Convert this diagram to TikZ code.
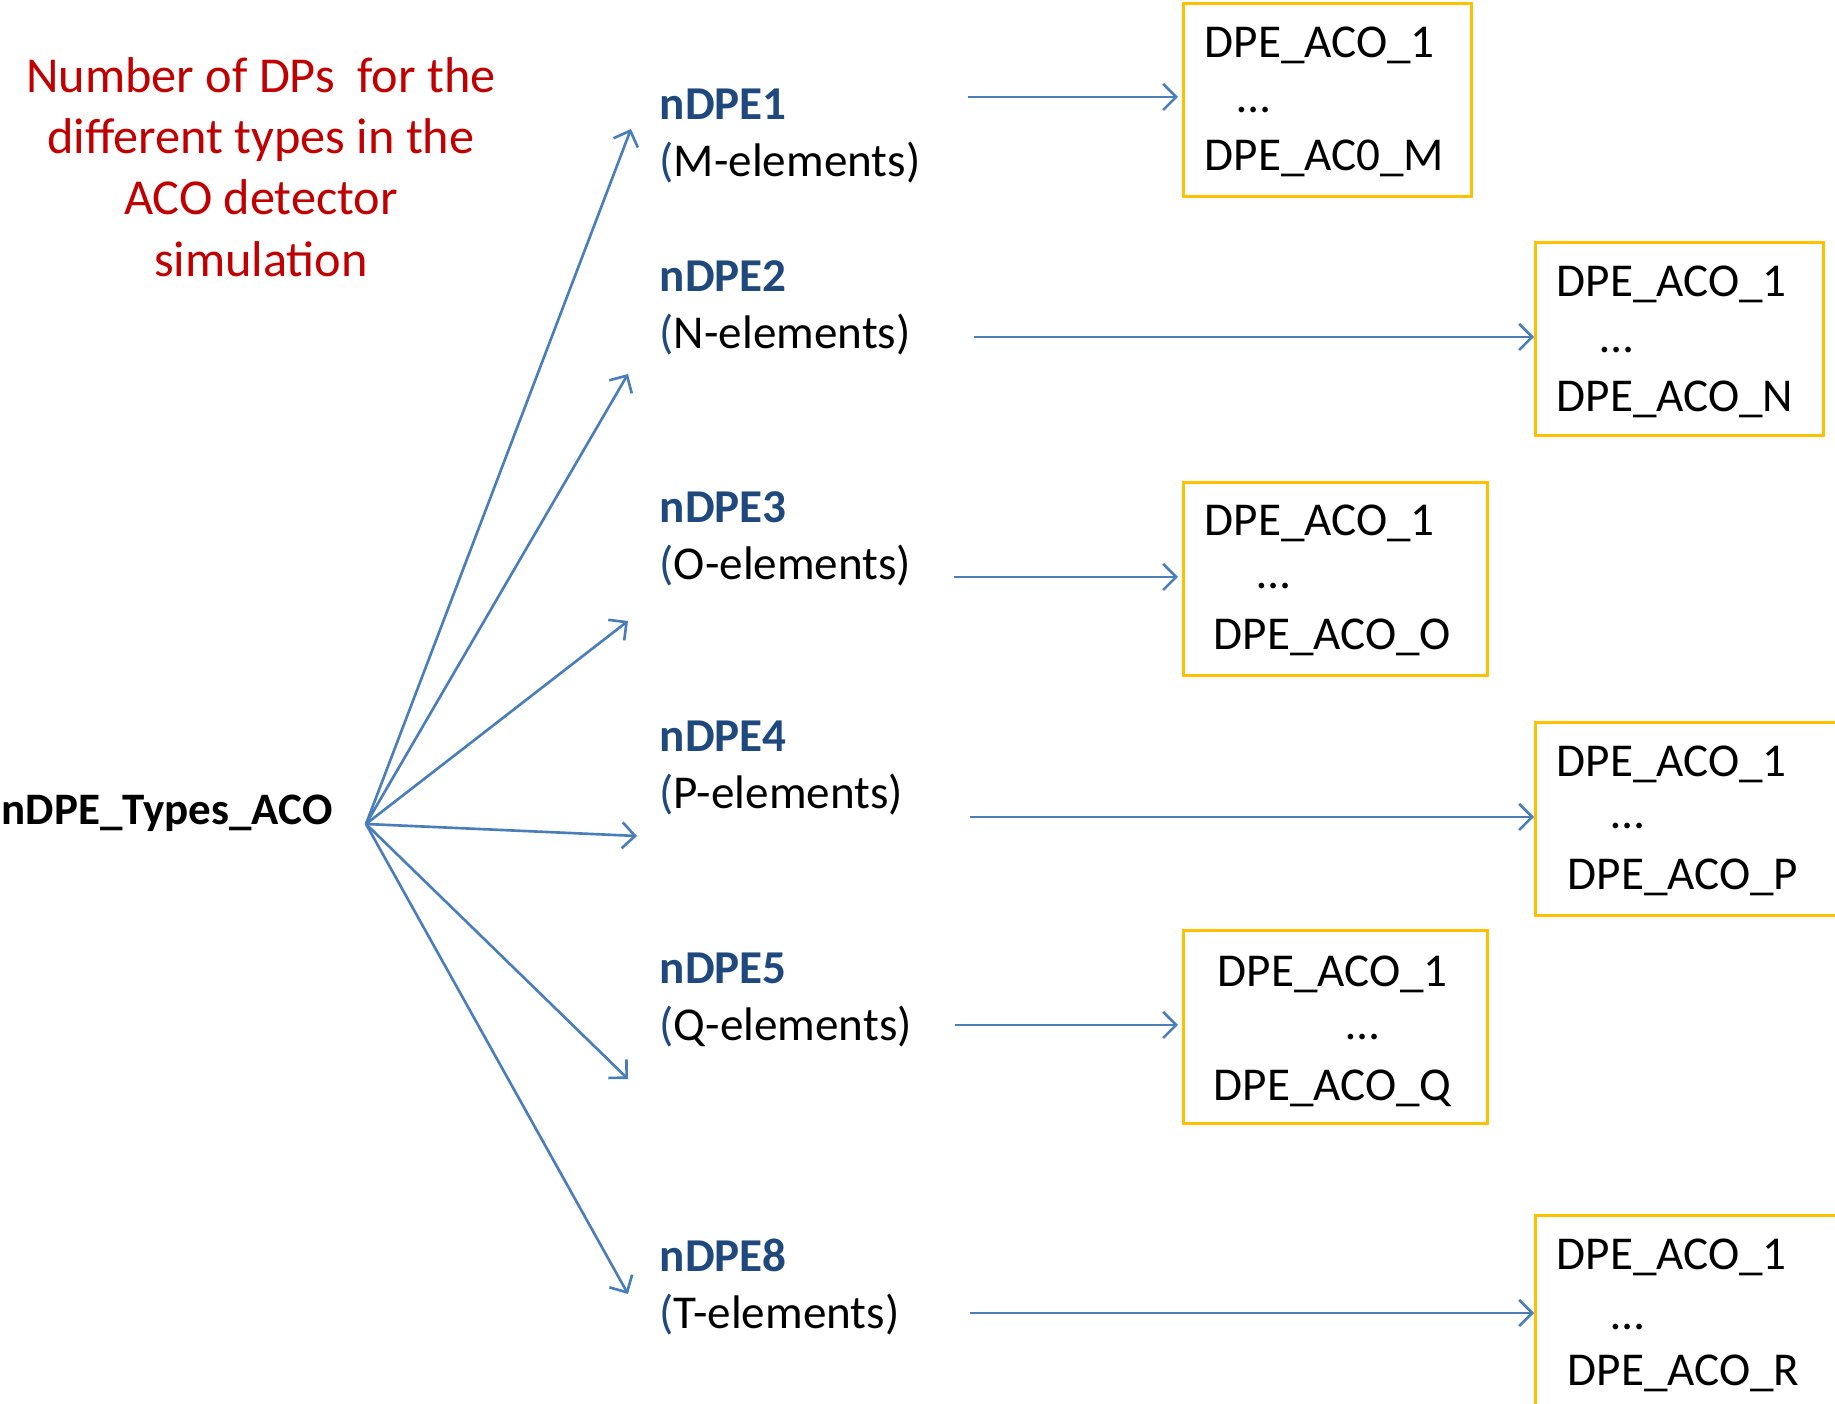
\documentclass[tikz,border=0pt]{standalone}
\usepackage{fontspec}
\setmainfont{Carlito}
\usetikzlibrary{arrows.meta, positioning}
\definecolor{linkblue}{HTML}{4A7EBB}
\definecolor{boxgold}{HTML}{FFC000}
\definecolor{notered}{HTML}{C00000}
\definecolor{typeblue}{HTML}{1F497D}

\begin{document}
\begin{tikzpicture}[x=0.01cm, y=-0.01cm,
        conn/.style={draw=linkblue, line width=0.75pt, -{Straight Barb[length=1.3mm, width=2.6mm]}},
        dpebox/.style={draw=boxgold, line width=0.75pt, anchor=north west, minimum width=#1, minimum height=1.93cm, inner sep=0pt},
        txt/.style={anchor=base west, inner sep=0pt, font=\fontsize{13.4}{16}\selectfont},
        lbl/.style={txt, text=typeblue, font=\fontsize{13.4}{16}\selectfont\bfseries},
        note/.style={anchor=north, inner sep=0pt, align=center, text=notered, font=\fontsize{14.3}{17.4}\selectfont}]
            \useasboundingbox (0,0) rectangle (1835,1404);

            \node[note] (title) at (261,57) {Number of DPs\ \ for the\\different types in the\\ACO detector\\simulation};

            \node[txt, font=\fontsize{12.8}{15}\selectfont\bfseries] (types) at (1,825) {nDPE\_Types\_ACO};
            \coordinate (hub) at (366,824);

            \node[lbl] (n1) at (659,120) {nDPE1};
            \node[txt] (n1e) at (659,177) {{\color{typeblue}(}M-elements)};
            \node[lbl] (n2) at (659,292) {nDPE2};
            \node[txt] (n2e) at (659,349) {{\color{typeblue}(}N-elements)};
            \node[lbl] (n3) at (659,523) {nDPE3};
            \node[txt] (n3e) at (659,580) {{\color{typeblue}(}O-elements)};
            \node[lbl] (n4) at (659,752) {nDPE4};
            \node[txt] (n4e) at (659,809) {{\color{typeblue}(}P-elements)};
            \node[lbl] (n5) at (659,984) {nDPE5};
            \node[txt] (n5e) at (659,1041) {{\color{typeblue}(}Q-elements)};
            \node[lbl] (n8) at (659,1272) {nDPE8};
            \node[txt] (n8e) at (659,1329) {{\color{typeblue}(}T-elements)};

            \coordinate (a1) at (631,129);
            \coordinate (a2) at (628,374);
            \coordinate (a3) at (628,621);
            \coordinate (a4) at (637,836);
            \coordinate (a5) at (628,1079);
            \coordinate (a6) at (628,1294);

            \draw[conn] (hub) -- (a1);
            \draw[conn] (hub) -- (a2);
            \draw[conn] (hub) -- (a3);
            \draw[conn] (hub) -- (a4);
            \draw[conn] (hub) -- (a5);
            \draw[conn] (hub) -- (a6);

            \node[dpebox=2.88cm] (b1) at (1182,2) {};
            \node[txt] (b1top) at (1204,58) {DPE\_ACO\_1};
            \node[txt] (b1dots) at (1237,113) {…};
            \node[txt] (b1bot) at (1204,171) {DPE\_AC0\_M};

            \node[dpebox=2.88cm] (b2) at (1534,241) {};
            \node[txt] (b2top) at (1556,297) {DPE\_ACO\_1};
            \node[txt] (b2dots) at (1600,353) {…};
            \node[txt] (b2bot) at (1556,412) {DPE\_ACO\_N};

            \node[dpebox=3.04cm] (b3) at (1182,481) {};
            \node[txt] (b3top) at (1204,536) {DPE\_ACO\_1};
            \node[txt] (b3dots) at (1257,589) {…};
            \node[txt] (b3bot) at (1213,650) {DPE\_ACO\_O};

            \node[dpebox=3.1cm] (b4) at (1534,721) {};
            \node[txt] (b4top) at (1556,777) {DPE\_ACO\_1};
            \node[txt] (b4dots) at (1611,829) {…};
            \node[txt] (b4bot) at (1567,890) {DPE\_ACO\_P};

            \node[dpebox=3.04cm] (b5) at (1182,929) {};
            \node[txt] (b5top) at (1217,987) {DPE\_ACO\_1};
            \node[txt] (b5dots) at (1346,1040) {…};
            \node[txt] (b5bot) at (1213,1101) {DPE\_ACO\_Q};

            \node[dpebox=3.1cm] (b6) at (1534,1214) {};
            \node[txt] (b6top) at (1556,1270) {DPE\_ACO\_1};
            \node[txt] (b6dots) at (1611,1330) {…};
            \node[txt] (b6bot) at (1567,1386) {DPE\_ACO\_R};

            \coordinate (s1) at (968,97);
            \coordinate (s2) at (974,337);
            \coordinate (s3) at (954,577);
            \coordinate (s4) at (970,817);
            \coordinate (s5) at (955,1025);
            \coordinate (s6) at (970,1313);

            \draw[conn, shorten >=0.4mm] (s1) -- (s1 -| b1.west);
            \draw[conn] (s2) -- (s2 -| b2.west);
            \draw[conn, shorten >=0.4mm] (s3) -- (s3 -| b3.west);
            \draw[conn] (s4) -- (s4 -| b4.west);
            \draw[conn, shorten >=0.4mm] (s5) -- (s5 -| b5.west);
            \draw[conn] (s6) -- (s6 -| b6.west);
        \end{tikzpicture}
\end{document}
